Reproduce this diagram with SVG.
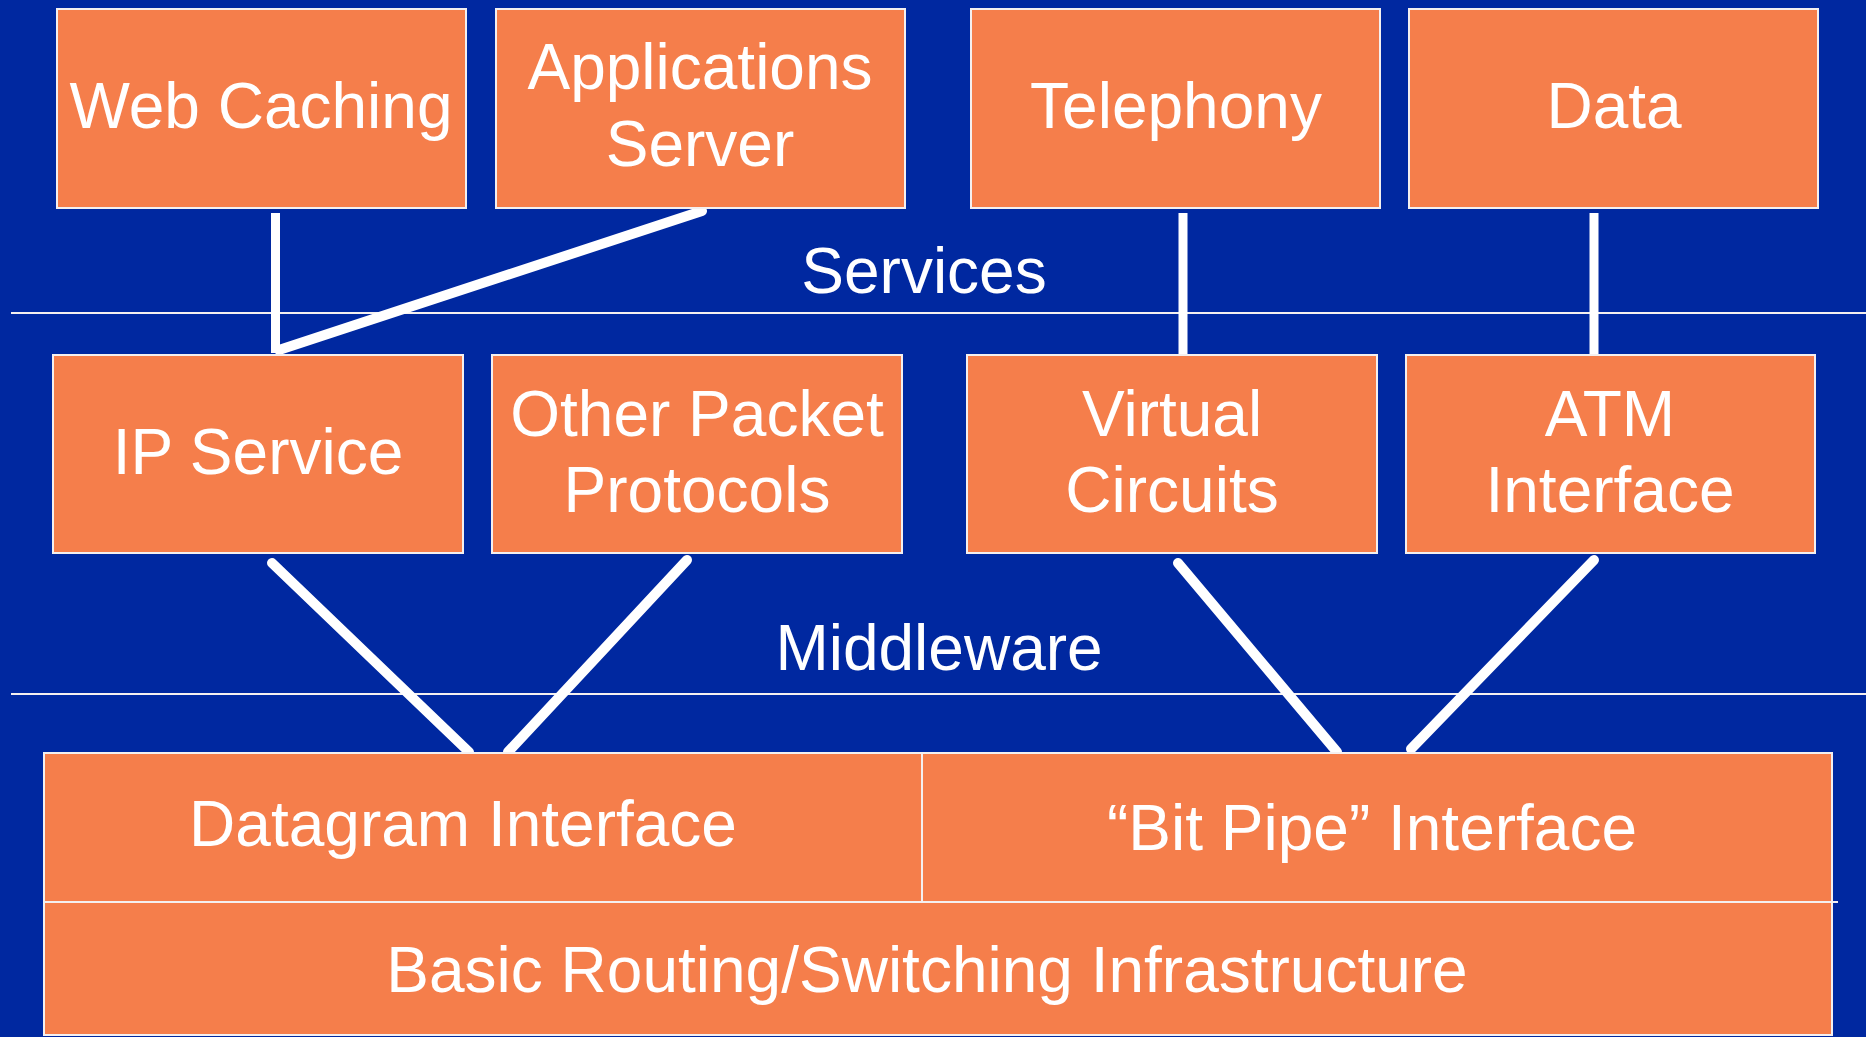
<svg xmlns="http://www.w3.org/2000/svg" width="1866" height="1037" viewBox="0 0 1866 1037">
  <style>
    .box { fill: #F57E4B; stroke: #F4F0F0; stroke-width: 2; }
    .lbl { font-family: "Liberation Sans", Arial, sans-serif; font-size: 64px; fill: #FFFFFF; text-anchor: middle; }
    .rule { stroke: #F4F0F0; stroke-width: 2; fill: none; }
    .link { stroke: #FFFFFF; stroke-width: 10; stroke-linecap: round; fill: none; }
    .vlink { stroke: #FFFFFF; stroke-width: 9; fill: none; }
  </style>
  <rect x="0" y="0" width="1866" height="1037" fill="#0028A0"/>

  <!-- layer separators -->
  <g id="layers">
    <line class="rule" x1="11" y1="313" x2="1866" y2="313"/>
    <line class="rule" x1="11" y1="694" x2="1866" y2="694"/>
    <text class="lbl" x="924" y="293">Services</text>
    <text class="lbl" x="939" y="670">Middleware</text>
  </g>

  <!-- connectors -->
  <g id="connectors">
    <line class="vlink" x1="275.5" y1="213" x2="275.5" y2="353"/>
    <line class="link" x1="702" y1="211" x2="279" y2="350"/>
    <line class="vlink" x1="1183" y1="213" x2="1183" y2="355"/>
    <line class="vlink" x1="1594" y1="213" x2="1594" y2="355"/>
    <line class="link" x1="272" y1="563" x2="469" y2="752"/>
    <line class="link" x1="687" y1="560" x2="508" y2="752"/>
    <line class="link" x1="1178" y1="563" x2="1337" y2="752"/>
    <line class="link" x1="1594" y1="560" x2="1411" y2="749"/>
  </g>

  <!-- service row -->
  <g id="web-caching">
    <rect class="box" x="57" y="9" width="409" height="199"/>
    <text class="lbl" x="261" y="128">Web Caching</text>
  </g>
  <g id="applications-server">
    <rect class="box" x="496" y="9" width="409" height="199"/>
    <text class="lbl" x="700" y="89">Applications</text>
    <text class="lbl" x="700" y="166">Server</text>
  </g>
  <g id="telephony">
    <rect class="box" x="971" y="9" width="409" height="199"/>
    <text class="lbl" x="1176" y="128">Telephony</text>
  </g>
  <g id="data">
    <rect class="box" x="1409" y="9" width="409" height="199"/>
    <text class="lbl" x="1614" y="128">Data</text>
  </g>

  <!-- middleware row -->
  <g id="ip-service">
    <rect class="box" x="53" y="355" width="410" height="198"/>
    <text class="lbl" x="258" y="474">IP Service</text>
  </g>
  <g id="other-packet-protocols">
    <rect class="box" x="492" y="355" width="410" height="198"/>
    <text class="lbl" x="697" y="436">Other Packet</text>
    <text class="lbl" x="697" y="512">Protocols</text>
  </g>
  <g id="virtual-circuits">
    <rect class="box" x="967" y="355" width="410" height="198"/>
    <text class="lbl" x="1172" y="436">Virtual</text>
    <text class="lbl" x="1172" y="512">Circuits</text>
  </g>
  <g id="atm-interface">
    <rect class="box" x="1406" y="355" width="409" height="198"/>
    <text class="lbl" x="1610" y="436">ATM</text>
    <text class="lbl" x="1610" y="512">Interface</text>
  </g>

  <!-- infrastructure block -->
  <g id="infrastructure">
    <rect class="box" x="44" y="753" width="1788" height="282"/>
    <line class="rule" x1="44" y1="902" x2="1838" y2="902"/>
    <line class="rule" x1="922" y1="753" x2="922" y2="902"/>
  </g>
  <g id="datagram-interface">
    <text class="lbl" x="463" y="846">Datagram Interface</text>
  </g>
  <g id="bit-pipe-interface">
    <text class="lbl" x="1372" y="850">“Bit Pipe” Interface</text>
  </g>
  <g id="basic-routing">
    <text class="lbl" x="927" y="992">Basic Routing/Switching Infrastructure</text>
  </g>
</svg>
